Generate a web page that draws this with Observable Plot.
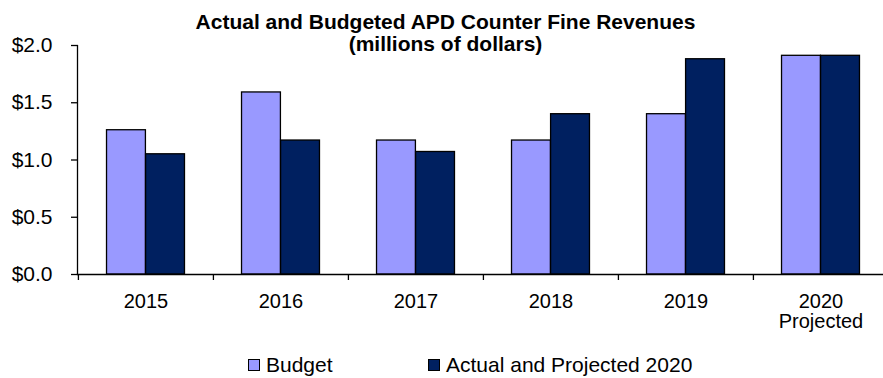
<!DOCTYPE html>
<html>
<head>
<meta charset="utf-8">
<script src="https://cdn.jsdelivr.net/npm/d3@7"></script>
<script src="https://cdn.jsdelivr.net/npm/@observablehq/plot@0.6"></script>
<style>
  body { margin: 0; background: #fff; font-family: "Liberation Sans", Arial, sans-serif; color: #000; }
  #wrap { position: relative; width: 883px; height: 378px; overflow: hidden; background: #fff; }
  #chart { position: absolute; left: 0; top: 0; }
  #title { position: absolute; top: 11px; left: 0; width: 891px; text-align: center; font-weight: bold; font-size: 21px; line-height: 22px; }
  #legend { position: absolute; top: 354px; left: 248px; display: flex; align-items: center; font-size: 21px; line-height: 22px; }
  .item { display: flex; align-items: center; }
  .sw { width: 10px; height: 10px; border: 1px solid #000; margin-right: 6px; }
</style>
</head>
<body>
<div id="wrap">
  <div id="chart"></div>
  <div id="title">Actual and Budgeted APD Counter Fine Revenues<br>(millions of dollars)</div>
  <div id="legend"></div>
</div>
<script>
const years = ["2015", "2016", "2017", "2018", "2019", "2020"];
const tickLabels = ["2015", "2016", "2017", "2018", "2019", "2020\nProjected"];
const budget = [1.26, 1.59, 1.17, 1.17, 1.40, 1.91];
const actual = [1.05, 1.17, 1.07, 1.40, 1.88, 1.91];
const seriesNames = ["Budget", "Actual and Projected 2020"];
const seriesColors = ["#9999FF", "#002060"];
const yTicks = [0, 0.5, 1.0, 1.5, 2.0];

const rows = years.map((y, i) => ({year: y, budget: budget[i], actual: actual[i]}));

const W = 883, H = 340, mL = 77, mT = 45, mB = 66;
const xEnd = 888;
const step = (xEnd - mL) / years.length;
const barW = step * 0.289;
const side = (step - 2 * barW) / 2;

const chart = Plot.plot({
  width: W,
  height: H,
  marginLeft: mL,
  marginRight: 0,
  marginTop: mT,
  marginBottom: mB,
  style: {fontFamily: "'Liberation Sans', Arial, sans-serif", fontSize: "20px", color: "#000", background: "#fff"},
  x: {domain: years, range: [mL, xEnd], padding: 0, label: null},
  y: {domain: [0, 2], label: null},
  marks: [
    Plot.barY(rows, {x: "year", y: "budget", fill: seriesColors[0], stroke: "#000", strokeWidth: 1.3, insetLeft: side, insetRight: side + barW}),
    Plot.barY(rows, {x: "year", y: "actual", fill: seriesColors[1], stroke: "#000", strokeWidth: 1.3, insetLeft: side + barW, insetRight: side}),
    Plot.ruleX(years, {x: d => d, dx: -step / 2, y1: 0, y2: 0, insetBottom: -6, stroke: "#000", strokeWidth: 1.3}),
    Plot.frame({anchor: "left", stroke: "#000", strokeWidth: 1.3}),
    Plot.frame({anchor: "bottom", stroke: "#000", strokeWidth: 1.3}),
    Plot.axisY(yTicks, {tickFormat: d3.format("$.1f"), tickSize: 6, tickPadding: 19, strokeWidth: 1.3, fontSize: 21, label: null}),
    Plot.axisX({tickSize: 0, tickPadding: 19, tickFormat: d => tickLabels[years.indexOf(d)], lineHeight: 1.0, fontSize: 20, label: null})
  ]
});
document.getElementById("chart").appendChild(chart);

const legend = document.getElementById("legend");
seriesNames.forEach((name, i) => {
  const item = document.createElement("div");
  item.className = "item";
  if (i === 0) item.style.width = "180px";
  const sw = document.createElement("div");
  sw.className = "sw";
  sw.style.background = seriesColors[i];
  const label = document.createElement("span");
  label.textContent = name;
  item.appendChild(sw);
  item.appendChild(label);
  legend.appendChild(item);
});
</script>
</body>
</html>
